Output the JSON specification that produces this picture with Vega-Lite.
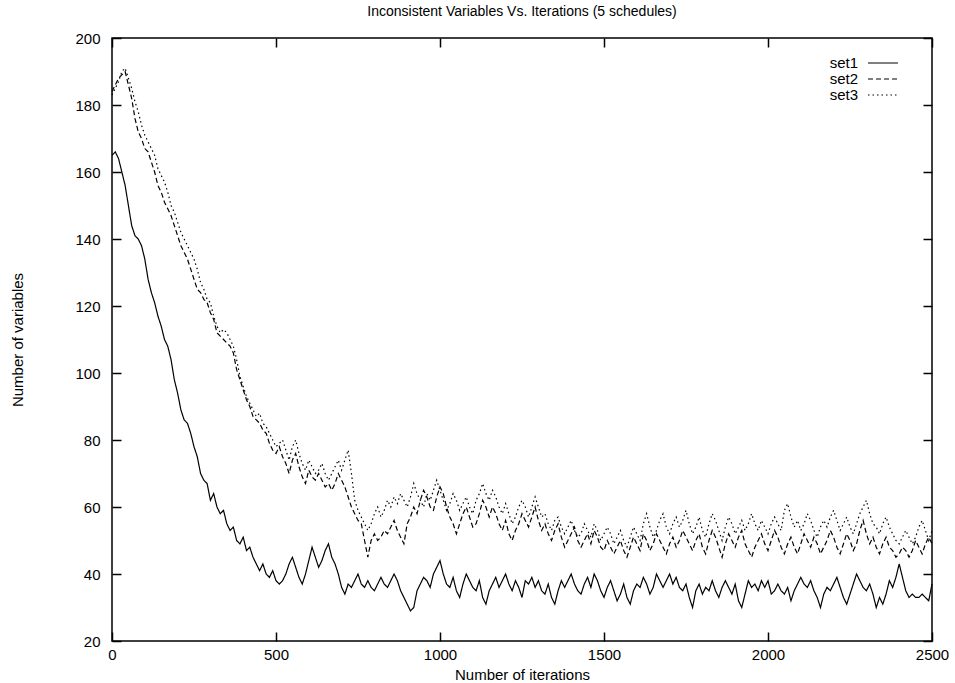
{
"$schema":"https://vega.github.io/schema/vega-lite/v6.json",
"width":820,"height":603,
"autosize":{"type":"none"},
"padding":{"left":112,"top":38,"right":23,"bottom":42},
"background":"white",
"config":{"font":"Liberation Sans","view":{"stroke":"black","strokeWidth":1.5},
 "axis":{"grid":false,"domain":false,"tickColor":"black","tickWidth":1.5,"tickSize":-9,"labelColor":"black","labelFontSize":15,"titleColor":"black","titleFontSize":15,"titleFontWeight":"normal","labelFlush":false,"labelOverlap":false,"format":"d"}},
"title":{"text":"Inconsistent Variables Vs. Iterations (5 schedules)","fontSize":14,"fontWeight":"normal","color":"black","offset":12},
"data":{"values":[
{"iter":0,"set1":165,"set2":184,"set3":183},{"iter":10,"set1":166,"set2":186,"set3":185},{"iter":20,"set1":164,"set2":188,"set3":187},{"iter":30,"set1":160,"set2":189,"set3":190},{"iter":40,"set1":156,"set2":190,"set3":191},
{"iter":50,"set1":150,"set2":186,"set3":188},{"iter":60,"set1":144,"set2":182,"set3":185},{"iter":70,"set1":141,"set2":176,"set3":181},{"iter":80,"set1":140,"set2":172,"set3":178},{"iter":90,"set1":138,"set2":170,"set3":174},
{"iter":100,"set1":134,"set2":167,"set3":171},{"iter":110,"set1":128,"set2":166,"set3":169},{"iter":120,"set1":124,"set2":163,"set3":167},{"iter":130,"set1":121,"set2":160,"set3":165},{"iter":140,"set1":117,"set2":156,"set3":161},
{"iter":150,"set1":114,"set2":154,"set3":159},{"iter":160,"set1":110,"set2":151,"set3":157},{"iter":170,"set1":108,"set2":149,"set3":154},{"iter":180,"set1":104,"set2":147,"set3":150},{"iter":190,"set1":98,"set2":144,"set3":148},
{"iter":200,"set1":94,"set2":141,"set3":145},{"iter":210,"set1":89,"set2":138,"set3":142},{"iter":220,"set1":86,"set2":136,"set3":140},{"iter":230,"set1":85,"set2":134,"set3":138},{"iter":240,"set1":82,"set2":131,"set3":136},
{"iter":250,"set1":78,"set2":128,"set3":134},{"iter":260,"set1":75,"set2":125,"set3":131},{"iter":270,"set1":70,"set2":124,"set3":127},{"iter":280,"set1":68,"set2":122,"set3":125},{"iter":290,"set1":67,"set2":121,"set3":122},
{"iter":300,"set1":62,"set2":118,"set3":121},{"iter":310,"set1":64,"set2":116,"set3":117},{"iter":320,"set1":60,"set2":112,"set3":114},{"iter":330,"set1":58,"set2":111,"set3":112},{"iter":340,"set1":59,"set2":110,"set3":113},
{"iter":350,"set1":55,"set2":109,"set3":112},{"iter":360,"set1":53,"set2":108,"set3":110},{"iter":370,"set1":54,"set2":106,"set3":108},{"iter":380,"set1":50,"set2":101,"set3":104},{"iter":390,"set1":49,"set2":98,"set3":99},
{"iter":400,"set1":51,"set2":95,"set3":96},{"iter":410,"set1":47,"set2":92,"set3":93},{"iter":420,"set1":48,"set2":90,"set3":91},{"iter":430,"set1":45,"set2":87,"set3":89},{"iter":440,"set1":43,"set2":86,"set3":87},
{"iter":450,"set1":41,"set2":85,"set3":88},{"iter":460,"set1":43,"set2":83,"set3":85},{"iter":470,"set1":40,"set2":82,"set3":84},{"iter":480,"set1":39,"set2":79,"set3":82},{"iter":490,"set1":41,"set2":77,"set3":80},
{"iter":500,"set1":38,"set2":76,"set3":78},{"iter":510,"set1":37,"set2":78,"set3":79},{"iter":520,"set1":38,"set2":75,"set3":80},{"iter":530,"set1":40,"set2":73,"set3":77},{"iter":540,"set1":43,"set2":70,"set3":74},
{"iter":550,"set1":45,"set2":74,"set3":78},{"iter":560,"set1":42,"set2":76,"set3":80},{"iter":570,"set1":39,"set2":72,"set3":76},{"iter":580,"set1":37,"set2":69,"set3":73},{"iter":590,"set1":40,"set2":67,"set3":71},
{"iter":600,"set1":44,"set2":71,"set3":74},{"iter":610,"set1":48,"set2":69,"set3":72},{"iter":620,"set1":45,"set2":68,"set3":70},{"iter":630,"set1":42,"set2":70,"set3":71},{"iter":640,"set1":44,"set2":68,"set3":73},
{"iter":650,"set1":47,"set2":66,"set3":70},{"iter":660,"set1":49,"set2":67,"set3":68},{"iter":670,"set1":45,"set2":65,"set3":70},{"iter":680,"set1":43,"set2":67,"set3":72},{"iter":690,"set1":40,"set2":70,"set3":74},
{"iter":700,"set1":36,"set2":68,"set3":71},{"iter":710,"set1":34,"set2":66,"set3":74},{"iter":720,"set1":37,"set2":63,"set3":77},{"iter":730,"set1":36,"set2":60,"set3":70},{"iter":740,"set1":38,"set2":58,"set3":62},
{"iter":750,"set1":40,"set2":56,"set3":59},{"iter":760,"set1":37,"set2":55,"set3":57},{"iter":770,"set1":36,"set2":50,"set3":55},{"iter":780,"set1":38,"set2":45,"set3":53},{"iter":790,"set1":36,"set2":50,"set3":55},
{"iter":800,"set1":35,"set2":52,"set3":58},{"iter":810,"set1":37,"set2":50,"set3":60},{"iter":820,"set1":39,"set2":51,"set3":57},{"iter":830,"set1":37,"set2":53,"set3":59},{"iter":840,"set1":36,"set2":52,"set3":62},
{"iter":850,"set1":38,"set2":54,"set3":60},{"iter":860,"set1":40,"set2":56,"set3":63},{"iter":870,"set1":38,"set2":53,"set3":61},{"iter":880,"set1":35,"set2":51,"set3":64},{"iter":890,"set1":33,"set2":49,"set3":62},
{"iter":900,"set1":31,"set2":55,"set3":60},{"iter":910,"set1":29,"set2":57,"set3":63},{"iter":920,"set1":30,"set2":60,"set3":67},{"iter":930,"set1":35,"set2":58,"set3":64},{"iter":940,"set1":37,"set2":62,"set3":62},
{"iter":950,"set1":39,"set2":65,"set3":60},{"iter":960,"set1":38,"set2":63,"set3":64},{"iter":970,"set1":36,"set2":60,"set3":62},{"iter":980,"set1":40,"set2":59,"set3":65},{"iter":990,"set1":42,"set2":63,"set3":68},
{"iter":1000,"set1":44,"set2":66,"set3":65},{"iter":1010,"set1":40,"set2":64,"set3":62},{"iter":1020,"set1":37,"set2":60,"set3":59},{"iter":1030,"set1":36,"set2":57,"set3":61},{"iter":1040,"set1":39,"set2":55,"set3":64},
{"iter":1050,"set1":35,"set2":52,"set3":62},{"iter":1060,"set1":33,"set2":55,"set3":59},{"iter":1070,"set1":37,"set2":58,"set3":61},{"iter":1080,"set1":40,"set2":60,"set3":63},{"iter":1090,"set1":38,"set2":57,"set3":60},
{"iter":1100,"set1":36,"set2":54,"set3":58},{"iter":1110,"set1":35,"set2":55,"set3":62},{"iter":1120,"set1":38,"set2":58,"set3":64},{"iter":1130,"set1":33,"set2":62,"set3":67},{"iter":1140,"set1":31,"set2":60,"set3":64},
{"iter":1150,"set1":35,"set2":57,"set3":62},{"iter":1160,"set1":37,"set2":60,"set3":65},{"iter":1170,"set1":39,"set2":58,"set3":63},{"iter":1180,"set1":36,"set2":55,"set3":60},{"iter":1190,"set1":38,"set2":53,"set3":58},
{"iter":1200,"set1":40,"set2":56,"set3":61},{"iter":1210,"set1":37,"set2":52,"set3":58},{"iter":1220,"set1":35,"set2":50,"set3":55},{"iter":1230,"set1":38,"set2":53,"set3":57},{"iter":1240,"set1":36,"set2":55,"set3":60},
{"iter":1250,"set1":33,"set2":58,"set3":62},{"iter":1260,"set1":38,"set2":56,"set3":60},{"iter":1270,"set1":37,"set2":54,"set3":57},{"iter":1280,"set1":39,"set2":57,"set3":60},{"iter":1290,"set1":36,"set2":60,"set3":63},
{"iter":1300,"set1":38,"set2":56,"set3":60},{"iter":1310,"set1":35,"set2":53,"set3":57},{"iter":1320,"set1":34,"set2":55,"set3":58},{"iter":1330,"set1":37,"set2":52,"set3":55},{"iter":1340,"set1":33,"set2":50,"set3":53},
{"iter":1350,"set1":31,"set2":53,"set3":56},{"iter":1360,"set1":35,"set2":55,"set3":57},{"iter":1370,"set1":38,"set2":51,"set3":54},{"iter":1380,"set1":36,"set2":48,"set3":52},{"iter":1390,"set1":38,"set2":50,"set3":54},
{"iter":1400,"set1":40,"set2":52,"set3":56},{"iter":1410,"set1":37,"set2":54,"set3":53},{"iter":1420,"set1":35,"set2":50,"set3":51},{"iter":1430,"set1":34,"set2":48,"set3":52},{"iter":1440,"set1":37,"set2":50,"set3":55},
{"iter":1450,"set1":39,"set2":52,"set3":53},{"iter":1460,"set1":36,"set2":49,"set3":51},{"iter":1470,"set1":40,"set2":53,"set3":55},{"iter":1480,"set1":38,"set2":51,"set3":53},{"iter":1490,"set1":35,"set2":48,"set3":50},
{"iter":1500,"set1":33,"set2":47,"set3":52},{"iter":1510,"set1":36,"set2":50,"set3":54},{"iter":1520,"set1":38,"set2":48,"set3":52},{"iter":1530,"set1":35,"set2":46,"set3":49},{"iter":1540,"set1":32,"set2":48,"set3":51},
{"iter":1550,"set1":34,"set2":50,"set3":53},{"iter":1560,"set1":37,"set2":47,"set3":50},{"iter":1570,"set1":33,"set2":45,"set3":48},{"iter":1580,"set1":31,"set2":48,"set3":51},{"iter":1590,"set1":35,"set2":51,"set3":54},
{"iter":1600,"set1":37,"set2":49,"set3":52},{"iter":1610,"set1":36,"set2":47,"set3":50},{"iter":1620,"set1":39,"set2":52,"set3":55},{"iter":1630,"set1":37,"set2":50,"set3":58},{"iter":1640,"set1":34,"set2":47,"set3":54},
{"iter":1650,"set1":36,"set2":49,"set3":51},{"iter":1660,"set1":40,"set2":52,"set3":53},{"iter":1670,"set1":38,"set2":50,"set3":56},{"iter":1680,"set1":36,"set2":48,"set3":58},{"iter":1690,"set1":38,"set2":46,"set3":54},
{"iter":1700,"set1":40,"set2":49,"set3":52},{"iter":1710,"set1":37,"set2":51,"set3":55},{"iter":1720,"set1":39,"set2":48,"set3":57},{"iter":1730,"set1":36,"set2":50,"set3":54},{"iter":1740,"set1":35,"set2":53,"set3":56},
{"iter":1750,"set1":37,"set2":51,"set3":59},{"iter":1760,"set1":33,"set2":49,"set3":55},{"iter":1770,"set1":30,"set2":47,"set3":52},{"iter":1780,"set1":35,"set2":50,"set3":54},{"iter":1790,"set1":37,"set2":52,"set3":57},
{"iter":1800,"set1":34,"set2":48,"set3":53},{"iter":1810,"set1":36,"set2":46,"set3":51},{"iter":1820,"set1":35,"set2":50,"set3":55},{"iter":1830,"set1":38,"set2":53,"set3":58},{"iter":1840,"set1":35,"set2":51,"set3":56},
{"iter":1850,"set1":33,"set2":48,"set3":53},{"iter":1860,"set1":36,"set2":45,"set3":50},{"iter":1870,"set1":38,"set2":49,"set3":54},{"iter":1880,"set1":36,"set2":52,"set3":57},{"iter":1890,"set1":34,"set2":50,"set3":55},
{"iter":1900,"set1":37,"set2":48,"set3":52},{"iter":1910,"set1":32,"set2":51,"set3":54},{"iter":1920,"set1":30,"set2":53,"set3":56},{"iter":1930,"set1":34,"set2":49,"set3":53},{"iter":1940,"set1":38,"set2":47,"set3":55},
{"iter":1950,"set1":36,"set2":45,"set3":58},{"iter":1960,"set1":37,"set2":48,"set3":55},{"iter":1970,"set1":35,"set2":50,"set3":53},{"iter":1980,"set1":38,"set2":52,"set3":56},{"iter":1990,"set1":36,"set2":49,"set3":54},
{"iter":2000,"set1":38,"set2":47,"set3":52},{"iter":2010,"set1":34,"set2":50,"set3":55},{"iter":2020,"set1":35,"set2":53,"set3":57},{"iter":2030,"set1":37,"set2":51,"set3":55},{"iter":2040,"set1":35,"set2":48,"set3":53},
{"iter":2050,"set1":34,"set2":46,"set3":59},{"iter":2060,"set1":36,"set2":49,"set3":61},{"iter":2070,"set1":32,"set2":51,"set3":57},{"iter":2080,"set1":35,"set2":48,"set3":54},{"iter":2090,"set1":37,"set2":46,"set3":56},
{"iter":2100,"set1":39,"set2":49,"set3":53},{"iter":2110,"set1":37,"set2":52,"set3":55},{"iter":2120,"set1":36,"set2":50,"set3":58},{"iter":2130,"set1":38,"set2":48,"set3":56},{"iter":2140,"set1":35,"set2":51,"set3":53},
{"iter":2150,"set1":33,"set2":49,"set3":51},{"iter":2160,"set1":30,"set2":46,"set3":54},{"iter":2170,"set1":34,"set2":48,"set3":56},{"iter":2180,"set1":36,"set2":50,"set3":54},{"iter":2190,"set1":35,"set2":53,"set3":57},
{"iter":2200,"set1":37,"set2":51,"set3":59},{"iter":2210,"set1":39,"set2":48,"set3":56},{"iter":2220,"set1":36,"set2":46,"set3":53},{"iter":2230,"set1":33,"set2":49,"set3":55},{"iter":2240,"set1":31,"set2":52,"set3":57},
{"iter":2250,"set1":34,"set2":50,"set3":54},{"iter":2260,"set1":37,"set2":47,"set3":52},{"iter":2270,"set1":40,"set2":49,"set3":55},{"iter":2280,"set1":38,"set2":53,"set3":58},{"iter":2290,"set1":36,"set2":56,"set3":60},
{"iter":2300,"set1":35,"set2":52,"set3":62},{"iter":2310,"set1":37,"set2":49,"set3":58},{"iter":2320,"set1":34,"set2":51,"set3":55},{"iter":2330,"set1":30,"set2":48,"set3":54},{"iter":2340,"set1":33,"set2":46,"set3":52},
{"iter":2350,"set1":31,"set2":49,"set3":55},{"iter":2360,"set1":34,"set2":51,"set3":57},{"iter":2370,"set1":38,"set2":48,"set3":54},{"iter":2380,"set1":36,"set2":47,"set3":52},{"iter":2390,"set1":39,"set2":45,"set3":50},
{"iter":2400,"set1":43,"set2":46,"set3":49},{"iter":2410,"set1":39,"set2":48,"set3":51},{"iter":2420,"set1":35,"set2":47,"set3":53},{"iter":2430,"set1":33,"set2":45,"set3":51},{"iter":2440,"set1":34,"set2":47,"set3":49},
{"iter":2450,"set1":33,"set2":50,"set3":51},{"iter":2460,"set1":33,"set2":48,"set3":54},{"iter":2470,"set1":34,"set2":46,"set3":56},{"iter":2480,"set1":33,"set2":49,"set3":53},{"iter":2490,"set1":32,"set2":51,"set3":50},
{"iter":2500,"set1":37,"set2":49,"set3":53}
]},
"transform":[{"fold":["set1","set2","set3"],"as":["series","value"]}],
"layer":[
 {"mark":{"type":"line","color":"black","strokeWidth":1.2},
  "encoding":{
   "x":{"field":"iter","type":"quantitative","scale":{"domain":[0,2500],"nice":false},
        "axis":{"orient":"bottom","values":[0,500,1000,1500,2000,2500],"title":"Number of iterations","labelPadding":15,"titlePadding":5}},
   "y":{"field":"value","type":"quantitative","scale":{"domain":[20,200],"nice":false,"zero":false},
        "axis":{"orient":"left","values":[20,40,60,80,100,120,140,160,180,200],"title":"Number of variables","labelPadding":21,"titlePadding":49}},
   "strokeDash":{"field":"series","type":"nominal",
        "scale":{"domain":["set1","set2","set3"],"range":[[1,0],[5,3],[1.5,3]]},
        "legend":{"title":null,"orient":"none","legendX":763,"legendY":17,"symbolType":"M-2,0H2","symbolSize":225,"symbolStrokeColor":"black","symbolStrokeWidth":1,"labelFontSize":15,"labelColor":"black","labelAlign":"right","labelOffset":-33,"rowPadding":0}}
  }},
 {"mark":{"type":"line","opacity":0},
  "encoding":{
   "x":{"field":"iter","type":"quantitative","axis":{"orient":"top","values":[0,500,1000,1500,2000,2500],"labels":false,"title":null}},
   "y":{"field":"value","type":"quantitative","axis":{"orient":"right","values":[20,40,60,80,100,120,140,160,180,200],"labels":false,"title":null}},
   "detail":{"field":"series","type":"nominal"}
  }}
],
"resolve":{"axis":{"x":"independent","y":"independent"}}
}
